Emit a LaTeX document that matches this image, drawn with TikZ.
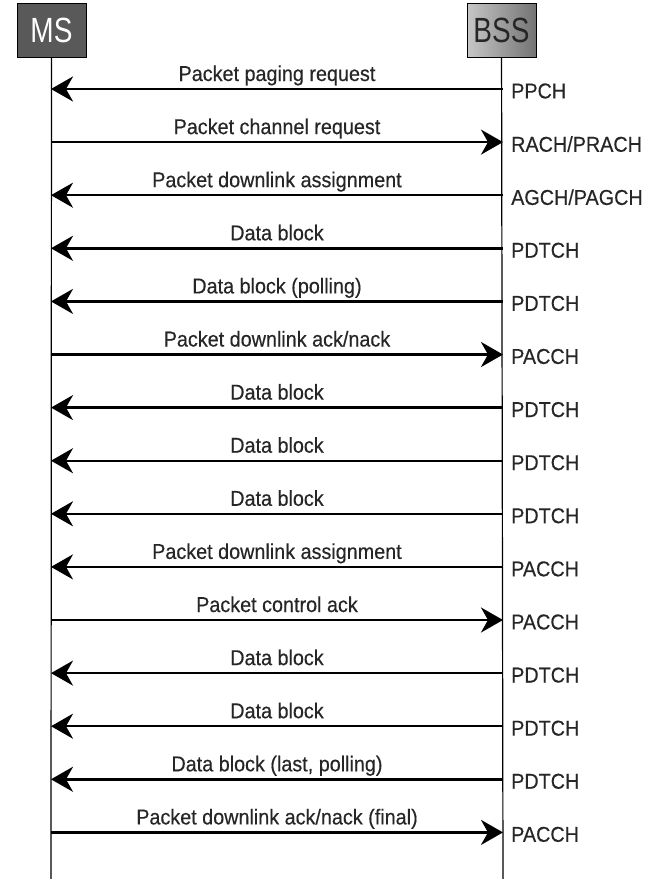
\documentclass[tikz,border=0pt]{standalone}
\usepackage{fontspec}
\setmainfont{Liberation Sans}
\newfontfamily\hdrfont[FakeStretch=0.8]{Liberation Sans}
\newfontfamily\lblfont[FakeStretch=0.92, FakeBold=0.4]{Liberation Sans}
\usetikzlibrary{arrows.meta, positioning}
\tikzset{
  entity/.style={rectangle, draw=black, line width=1pt, minimum width=69pt,
                 minimum height=54pt, inner sep=0pt,
                 font=\hdrfont\fontsize{35}{35}\selectfont},
  life/.style={line width=1.2pt},
  msg/.style={line width=2.4pt, -{Stealth[length=22pt, width=25pt, inset=7pt]}},
  msglabel/.style={midway, anchor=base, yshift=8pt, inner sep=0pt,
                   text=black!85, font=\lblfont\fontsize{21.5}{24}\selectfont},
  chan/.style={anchor=west, xshift=8pt, yshift=-2pt, inner sep=0pt,
               text=black!85, font=\lblfont\fontsize{21.5}{24}\selectfont},
}
\begin{document}
\begin{tikzpicture}[x=1pt, y=-1pt]
  \useasboundingbox (0,0) rectangle (650,879);

  % Entities
  \node[entity, fill=black!65, text=white] (ms) at (51.5,30) {MS};
  \node[entity, left color=black!22, right color=black!55, text=black!85]
    (bss) at (501.5,30) {BSS};

  % Lifelines
  \coordinate (msend)  at (51,879);
  \coordinate (bssend) at (503,879);
  \draw[life] (ms)  -- (msend);
  \draw[life] (bss) -- (bssend);

  % Message points on the lifelines
  \foreach \i in {1,...,15} {
    \coordinate (m\i) at (51,  89+53.1*\i-53.1);
    \coordinate (b\i) at (503, 89+53.1*\i-53.1);
  }

  % Messages
  \draw[msg] (b1)  -- node[msglabel]{Packet paging request} (m1);
  \draw[msg] (m2)  -- node[msglabel]{Packet channel request} (b2);
  \draw[msg] (b3)  -- node[msglabel]{Packet downlink assignment} (m3);
  \draw[msg] (b4)  -- node[msglabel]{Data block} (m4);
  \draw[msg] (b5)  -- node[msglabel]{Data block (polling)} (m5);
  \draw[msg] (m6)  -- node[msglabel]{Packet downlink ack/nack} (b6);
  \draw[msg] (b7)  -- node[msglabel]{Data block} (m7);
  \draw[msg] (b8)  -- node[msglabel]{Data block} (m8);
  \draw[msg] (b9)  -- node[msglabel]{Data block} (m9);
  \draw[msg] (b10) -- node[msglabel]{Packet downlink assignment} (m10);
  \draw[msg] (m11) -- node[msglabel]{Packet control ack} (b11);
  \draw[msg] (b12) -- node[msglabel]{Data block} (m12);
  \draw[msg] (b13) -- node[msglabel]{Data block} (m13);
  \draw[msg] (b14) -- node[msglabel]{Data block (last, polling)} (m14);
  \draw[msg] (m15) -- node[msglabel]{Packet downlink ack/nack (final)} (b15);

  % Channels
  \node[chan] (c1)  at (b1)  {PPCH};
  \node[chan] (c2)  at (b2)  {RACH/PRACH};
  \node[chan] (c3)  at (b3)  {AGCH/PAGCH};
  \node[chan] (c4)  at (b4)  {PDTCH};
  \node[chan] (c5)  at (b5)  {PDTCH};
  \node[chan] (c6)  at (b6)  {PACCH};
  \node[chan] (c7)  at (b7)  {PDTCH};
  \node[chan] (c8)  at (b8)  {PDTCH};
  \node[chan] (c9)  at (b9)  {PDTCH};
  \node[chan] (c10) at (b10) {PACCH};
  \node[chan] (c11) at (b11) {PACCH};
  \node[chan] (c12) at (b12) {PDTCH};
  \node[chan] (c13) at (b13) {PDTCH};
  \node[chan] (c14) at (b14) {PDTCH};
  \node[chan] (c15) at (b15) {PACCH};
\end{tikzpicture}
\end{document}
